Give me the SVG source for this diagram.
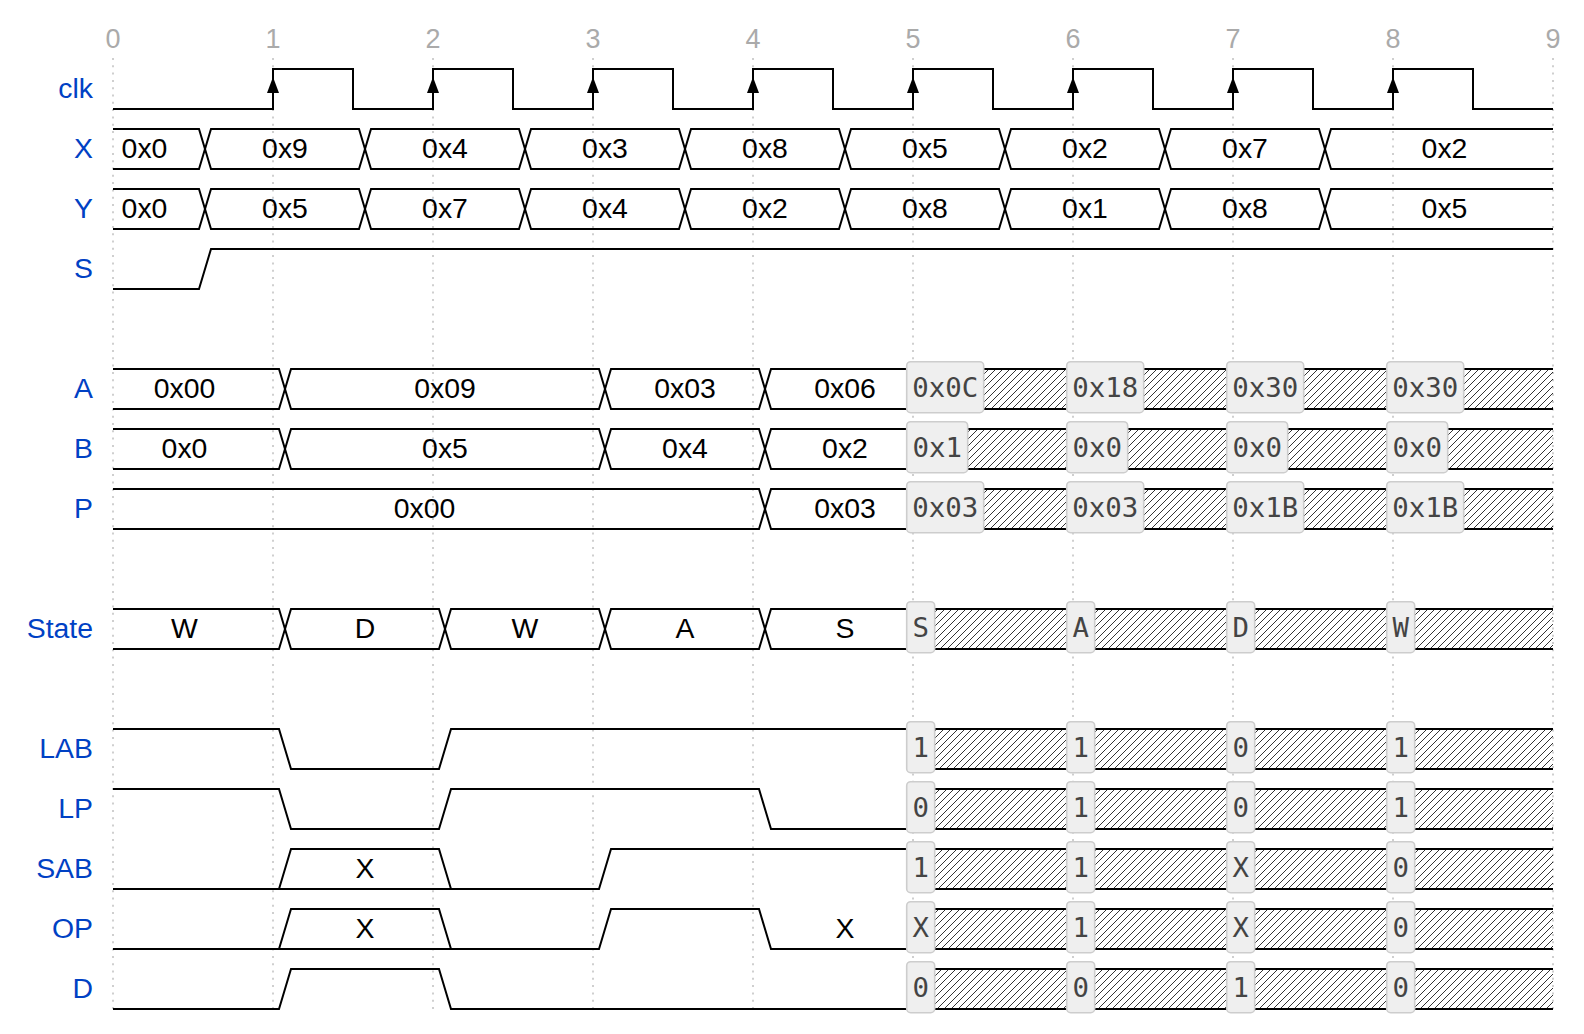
<svg xmlns="http://www.w3.org/2000/svg" width="1584" height="1034" viewBox="0 0 1584 1034">
<style>
.lbl{font-family:"Liberation Sans",Arial,sans-serif;font-size:28.4px;fill:#0041c4;text-anchor:end}
.val{font-family:"Liberation Sans",Arial,sans-serif;font-size:28.4px;fill:#000;text-anchor:middle}
.tick{font-family:"Liberation Sans",Arial,sans-serif;font-size:27px;fill:#aaa;text-anchor:middle}
.w{fill:none;stroke:#000;stroke-width:2}
.grid{stroke:#c4c4c4;stroke-width:1.6;stroke-dasharray:2 5.3}
.box{fill:#efefef;stroke:#cdcdcd;stroke-width:1.6}
.bt{font-family:"DejaVu Sans Mono",monospace;font-size:27.4px;fill:#444;text-anchor:middle}
.hx{fill:url(#hatch)}
</style>
<defs>
<pattern id="hatch" patternUnits="userSpaceOnUse" width="7" height="7">
<path d="M0,7 L7,0 M-2,2 L2,-2 M5,9 L9,5" stroke="#000" stroke-width="0.8"/>
</pattern>
<polygon id="arr" points="0,-16 -6,0 6,0" fill="#000"/>
</defs>
<rect width="1584" height="1034" fill="#fff"/>
<g id="grid">
<path class="grid" d="M113,58V1012M273,58V1012M433,58V1012M593,58V1012M753,58V1012M913,58V1012M1073,58V1012M1233,58V1012M1393,58V1012M1553,58V1012"/>
<text class="tick" x="113" y="47.5">0</text><text class="tick" x="273" y="47.5">1</text><text class="tick" x="433" y="47.5">2</text><text class="tick" x="593" y="47.5">3</text><text class="tick" x="753" y="47.5">4</text><text class="tick" x="913" y="47.5">5</text><text class="tick" x="1073" y="47.5">6</text><text class="tick" x="1233" y="47.5">7</text><text class="tick" x="1393" y="47.5">8</text><text class="tick" x="1553" y="47.5">9</text>
</g>
<g id="labels">
<text class="lbl" x="93" y="98">clk</text>
<text class="lbl" x="93" y="158">X</text>
<text class="lbl" x="93" y="218">Y</text>
<text class="lbl" x="93" y="278">S</text>
<text class="lbl" x="93" y="398">A</text>
<text class="lbl" x="93" y="458">B</text>
<text class="lbl" x="93" y="518">P</text>
<text class="lbl" x="93" y="638">State</text>
<text class="lbl" x="93" y="758">LAB</text>
<text class="lbl" x="93" y="818">LP</text>
<text class="lbl" x="93" y="878">SAB</text>
<text class="lbl" x="93" y="938">OP</text>
<text class="lbl" x="93" y="998">D</text>
</g>
<g id="connectors">
<g id="sig-clk">
<path class="w" d="M113,109 H273 V69 H353 V109 H433 V69 H513 V109 H593 V69 H673 V109 H753 V69 H833 V109 H913 V69 H993 V109 H1073 V69 H1153 V109 H1233 V69 H1313 V109 H1393 V69 H1473 V109 H1553"/>
<use href="#arr" x="273" y="93"/><use href="#arr" x="433" y="93"/><use href="#arr" x="593" y="93"/><use href="#arr" x="753" y="93"/><use href="#arr" x="913" y="93"/><use href="#arr" x="1073" y="93"/><use href="#arr" x="1233" y="93"/><use href="#arr" x="1393" y="93"/>
</g>
<g id="sig-X">
<path class="w" d="M113,129 H199 L211,169 H359 L371,129 H519 L531,169 H679 L691,129 H839 L851,169 H999 L1011,129 H1159 L1171,169 H1319 L1331,129 H1553"/>
<path class="w" d="M113,169 H199 L211,129 H359 L371,169 H519 L531,129 H679 L691,169 H839 L851,129 H999 L1011,169 H1159 L1171,129 H1319 L1331,169 H1553"/>
<text class="val" x="144.5" y="158">0x0</text><text class="val" x="285" y="158">0x9</text><text class="val" x="445" y="158">0x4</text><text class="val" x="605" y="158">0x3</text><text class="val" x="765" y="158">0x8</text><text class="val" x="925" y="158">0x5</text><text class="val" x="1085" y="158">0x2</text><text class="val" x="1245" y="158">0x7</text><text class="val" x="1444.5" y="158">0x2</text>
</g>
<g id="sig-Y">
<path class="w" d="M113,189 H199 L211,229 H359 L371,189 H519 L531,229 H679 L691,189 H839 L851,229 H999 L1011,189 H1159 L1171,229 H1319 L1331,189 H1553"/>
<path class="w" d="M113,229 H199 L211,189 H359 L371,229 H519 L531,189 H679 L691,229 H839 L851,189 H999 L1011,229 H1159 L1171,189 H1319 L1331,229 H1553"/>
<text class="val" x="144.5" y="218">0x0</text><text class="val" x="285" y="218">0x5</text><text class="val" x="445" y="218">0x7</text><text class="val" x="605" y="218">0x4</text><text class="val" x="765" y="218">0x2</text><text class="val" x="925" y="218">0x8</text><text class="val" x="1085" y="218">0x1</text><text class="val" x="1245" y="218">0x8</text><text class="val" x="1444.5" y="218">0x5</text>
</g>
<g id="sig-S">
<path class="w" d="M113,289 H199 L211,249 H1553"/>
</g>
<g id="sig-A">
<path class="w" d="M113,369 H279 L291,409 H599 L611,369 H759 L771,409 H912"/>
<path class="w" d="M113,409 H279 L291,369 H599 L611,409 H759 L771,369 H912"/>
<rect class="hx" x="912" y="369" width="641" height="40"/>
<path class="w" d="M912,369 H1553 M912,409 H1553"/>
<text class="val" x="184.5" y="398">0x00</text><text class="val" x="445" y="398">0x09</text><text class="val" x="685" y="398">0x03</text><text class="val" x="845" y="398">0x06</text>
</g>
<g id="sig-B">
<path class="w" d="M113,429 H279 L291,469 H599 L611,429 H759 L771,469 H912"/>
<path class="w" d="M113,469 H279 L291,429 H599 L611,469 H759 L771,429 H912"/>
<rect class="hx" x="912" y="429" width="641" height="40"/>
<path class="w" d="M912,429 H1553 M912,469 H1553"/>
<text class="val" x="184.5" y="458">0x0</text><text class="val" x="445" y="458">0x5</text><text class="val" x="685" y="458">0x4</text><text class="val" x="845" y="458">0x2</text>
</g>
<g id="sig-P">
<path class="w" d="M113,489 H759 L771,529 H912"/>
<path class="w" d="M113,529 H759 L771,489 H912"/>
<rect class="hx" x="912" y="489" width="641" height="40"/>
<path class="w" d="M912,489 H1553 M912,529 H1553"/>
<text class="val" x="424.5" y="518">0x00</text><text class="val" x="845" y="518">0x03</text>
</g>
<g id="sig-State">
<path class="w" d="M113,609 H279 L291,649 H439 L451,609 H599 L611,649 H759 L771,609 H912"/>
<path class="w" d="M113,649 H279 L291,609 H439 L451,649 H599 L611,609 H759 L771,649 H912"/>
<rect class="hx" x="912" y="609" width="641" height="40"/>
<path class="w" d="M912,609 H1553 M912,649 H1553"/>
<text class="val" x="184.5" y="638">W</text><text class="val" x="365" y="638">D</text><text class="val" x="525" y="638">W</text><text class="val" x="685" y="638">A</text><text class="val" x="845" y="638">S</text>
</g>
<g id="sig-LAB">
<path class="w" d="M113,729 H279 L291,769 H439 L451,729 H912"/>
<rect class="hx" x="912" y="729" width="641" height="40"/>
<path class="w" d="M912,729 H1553 M912,769 H1553"/>
</g>
<g id="sig-LP">
<path class="w" d="M113,789 H279 L291,829 H439 L451,789 H759 L771,829 H912"/>
<rect class="hx" x="912" y="789" width="641" height="40"/>
<path class="w" d="M912,789 H1553 M912,829 H1553"/>
</g>
<g id="sig-SAB">
<path class="w" d="M113,889 H599 L611,849 H912"/>
<path class="w" d="M279,889 L291,849 H439 L451,889"/>
<rect class="hx" x="912" y="849" width="641" height="40"/>
<path class="w" d="M912,849 H1553 M912,889 H1553"/>
<text class="val" x="365" y="878">X</text>
</g>
<g id="sig-OP">
<path class="w" d="M113,949 H599 L611,909 H759 L771,949 H912"/>
<path class="w" d="M279,949 L291,909 H439 L451,949"/>
<rect class="hx" x="912" y="909" width="641" height="40"/>
<path class="w" d="M912,909 H1553 M912,949 H1553"/>
<text class="val" x="365" y="938">X</text><text class="val" x="845" y="938">X</text>
</g>
<g id="sig-D">
<path class="w" d="M113,1009 H279 L291,969 H439 L451,1009 H912"/>
<rect class="hx" x="912" y="969" width="641" height="40"/>
<path class="w" d="M912,969 H1553 M912,1009 H1553"/>
</g>
</g>
<g id="boxes">
<g id="box-A">
<rect class="box" x="906.7" y="361.7" width="77" height="51" rx="4"/><text class="bt" x="945.2" y="396.7">0x0C</text>
<rect class="box" x="1066.7" y="361.7" width="77" height="51" rx="4"/><text class="bt" x="1105.2" y="396.7">0x18</text>
<rect class="box" x="1226.7" y="361.7" width="77" height="51" rx="4"/><text class="bt" x="1265.2" y="396.7">0x30</text>
<rect class="box" x="1386.7" y="361.7" width="77" height="51" rx="4"/><text class="bt" x="1425.2" y="396.7">0x30</text>
</g>
<g id="box-B">
<rect class="box" x="906.7" y="421.7" width="61" height="51" rx="4"/><text class="bt" x="937.2" y="456.7">0x1</text>
<rect class="box" x="1066.7" y="421.7" width="61" height="51" rx="4"/><text class="bt" x="1097.2" y="456.7">0x0</text>
<rect class="box" x="1226.7" y="421.7" width="61" height="51" rx="4"/><text class="bt" x="1257.2" y="456.7">0x0</text>
<rect class="box" x="1386.7" y="421.7" width="61" height="51" rx="4"/><text class="bt" x="1417.2" y="456.7">0x0</text>
</g>
<g id="box-P">
<rect class="box" x="906.7" y="481.7" width="77" height="51" rx="4"/><text class="bt" x="945.2" y="516.7">0x03</text>
<rect class="box" x="1066.7" y="481.7" width="77" height="51" rx="4"/><text class="bt" x="1105.2" y="516.7">0x03</text>
<rect class="box" x="1226.7" y="481.7" width="77" height="51" rx="4"/><text class="bt" x="1265.2" y="516.7">0x1B</text>
<rect class="box" x="1386.7" y="481.7" width="77" height="51" rx="4"/><text class="bt" x="1425.2" y="516.7">0x1B</text>
</g>
<g id="box-State">
<rect class="box" x="906.7" y="601.7" width="28" height="51" rx="4"/><text class="bt" x="920.7" y="636.7">S</text>
<rect class="box" x="1066.7" y="601.7" width="28" height="51" rx="4"/><text class="bt" x="1080.7" y="636.7">A</text>
<rect class="box" x="1226.7" y="601.7" width="28" height="51" rx="4"/><text class="bt" x="1240.7" y="636.7">D</text>
<rect class="box" x="1386.7" y="601.7" width="28" height="51" rx="4"/><text class="bt" x="1400.7" y="636.7">W</text>
</g>
<g id="box-LAB">
<rect class="box" x="906.7" y="721.7" width="28" height="51" rx="4"/><text class="bt" x="920.7" y="756.7">1</text>
<rect class="box" x="1066.7" y="721.7" width="28" height="51" rx="4"/><text class="bt" x="1080.7" y="756.7">1</text>
<rect class="box" x="1226.7" y="721.7" width="28" height="51" rx="4"/><text class="bt" x="1240.7" y="756.7">0</text>
<rect class="box" x="1386.7" y="721.7" width="28" height="51" rx="4"/><text class="bt" x="1400.7" y="756.7">1</text>
</g>
<g id="box-LP">
<rect class="box" x="906.7" y="781.7" width="28" height="51" rx="4"/><text class="bt" x="920.7" y="816.7">0</text>
<rect class="box" x="1066.7" y="781.7" width="28" height="51" rx="4"/><text class="bt" x="1080.7" y="816.7">1</text>
<rect class="box" x="1226.7" y="781.7" width="28" height="51" rx="4"/><text class="bt" x="1240.7" y="816.7">0</text>
<rect class="box" x="1386.7" y="781.7" width="28" height="51" rx="4"/><text class="bt" x="1400.7" y="816.7">1</text>
</g>
<g id="box-SAB">
<rect class="box" x="906.7" y="841.7" width="28" height="51" rx="4"/><text class="bt" x="920.7" y="876.7">1</text>
<rect class="box" x="1066.7" y="841.7" width="28" height="51" rx="4"/><text class="bt" x="1080.7" y="876.7">1</text>
<rect class="box" x="1226.7" y="841.7" width="28" height="51" rx="4"/><text class="bt" x="1240.7" y="876.7">X</text>
<rect class="box" x="1386.7" y="841.7" width="28" height="51" rx="4"/><text class="bt" x="1400.7" y="876.7">0</text>
</g>
<g id="box-OP">
<rect class="box" x="906.7" y="901.7" width="28" height="51" rx="4"/><text class="bt" x="920.7" y="936.7">X</text>
<rect class="box" x="1066.7" y="901.7" width="28" height="51" rx="4"/><text class="bt" x="1080.7" y="936.7">1</text>
<rect class="box" x="1226.7" y="901.7" width="28" height="51" rx="4"/><text class="bt" x="1240.7" y="936.7">X</text>
<rect class="box" x="1386.7" y="901.7" width="28" height="51" rx="4"/><text class="bt" x="1400.7" y="936.7">0</text>
</g>
<g id="box-D">
<rect class="box" x="906.7" y="961.7" width="28" height="51" rx="4"/><text class="bt" x="920.7" y="996.7">0</text>
<rect class="box" x="1066.7" y="961.7" width="28" height="51" rx="4"/><text class="bt" x="1080.7" y="996.7">0</text>
<rect class="box" x="1226.7" y="961.7" width="28" height="51" rx="4"/><text class="bt" x="1240.7" y="996.7">1</text>
<rect class="box" x="1386.7" y="961.7" width="28" height="51" rx="4"/><text class="bt" x="1400.7" y="996.7">0</text>
</g>
</g>
</svg>
